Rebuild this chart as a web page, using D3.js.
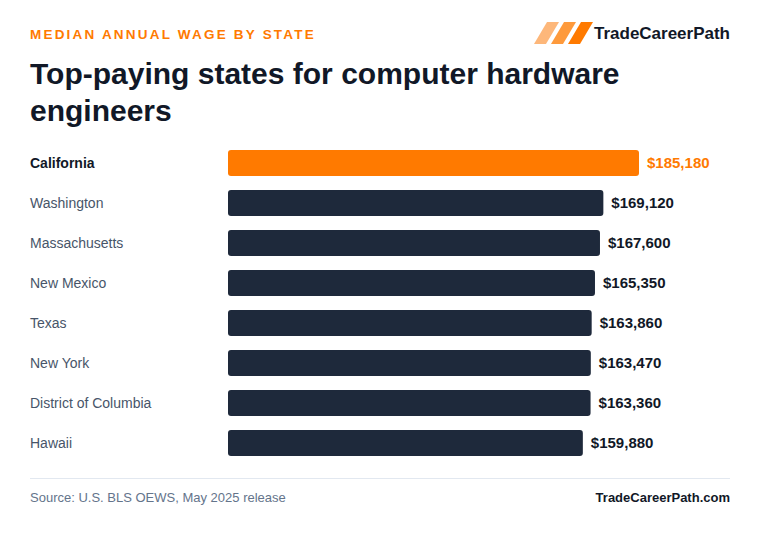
<!DOCTYPE html>
<html><head><meta charset="utf-8">
<script src="https://cdn.jsdelivr.net/npm/d3@7"></script>
<style>body{margin:0;background:#fff}svg{font-family:"Liberation Sans",Arial,sans-serif}</style>
</head><body><svg id="c" width="760" height="534"></svg>
<script>
const states=["California","Washington","Massachusetts","New Mexico","Texas","New York","District of Columbia","Hawaii"];
const wages=[185180,169120,167600,165350,163860,163470,163360,159880];
const svg=d3.select("#c");
svg.append("rect").attr("width",760).attr("height",534).attr("fill","#fff");
svg.append("text").attr("x",30).attr("y",39).text("MEDIAN ANNUAL WAGE BY STATE")
 .attr("fill","#ff7a00").attr("font-size",13.5).attr("font-weight",700).attr("letter-spacing",2.2);
const logoCols=["#fdb77a","#fe9a3c","#ff7a00"];
logoCols.forEach((c,i)=>{const x0=534+i*17;
 svg.append("path").attr("d",`M${x0},44 L${x0+13},22 L${x0+25},22 L${x0+12},44 Z`).attr("fill",c);});
svg.append("text").attr("x",730).attr("y",39).attr("text-anchor","end").text("TradeCareerPath")
 .attr("fill","#111827").attr("font-size",17).attr("font-weight",700).attr("textLength",136);
const t=svg.append("text").attr("fill","#111827").attr("font-size",30).attr("font-weight",700);
t.append("tspan").attr("x",30).attr("y",84).text("Top-paying states for computer hardware");
t.append("tspan").attr("x",30).attr("y",121).text("engineers");
const x=d3.scaleLinear().domain([0,185180]).range([228,639]);
const y=d3.scaleBand().domain(states).range([143,463]).paddingInner(0.35).paddingOuter(0.175);
states.forEach((s,i)=>{
 const hi=i===0, cy=y(s)+y.bandwidth()/2;
 svg.append("rect").attr("x",x(0)).attr("y",y(s)).attr("width",x(wages[i])-x(0)).attr("height",y.bandwidth())
  .attr("rx",3).attr("fill",hi?"#ff7a00":"#1e293b");
 svg.append("text").attr("x",30).attr("y",cy+5).text(s).attr("font-size",14)
  .attr("fill",hi?"#111827":"#475569").attr("font-weight",hi?700:400);
 svg.append("text").attr("x",x(wages[i])+8).attr("y",cy+5).text("$"+d3.format(",")(wages[i]))
  .attr("font-size",15).attr("font-weight",700).attr("fill",hi?"#ff7a00":"#111827");
});
svg.append("line").attr("x1",30).attr("x2",730).attr("y1",478.5).attr("y2",478.5).attr("stroke","#e2e8f0");
svg.append("text").attr("x",30).attr("y",502).text("Source: U.S. BLS OEWS, May 2025 release").attr("font-size",13).attr("fill","#64748b");
svg.append("text").attr("x",730).attr("y",502).attr("text-anchor","end").text("TradeCareerPath.com").attr("font-size",13).attr("font-weight",700).attr("fill","#111827");
</script></body></html>
